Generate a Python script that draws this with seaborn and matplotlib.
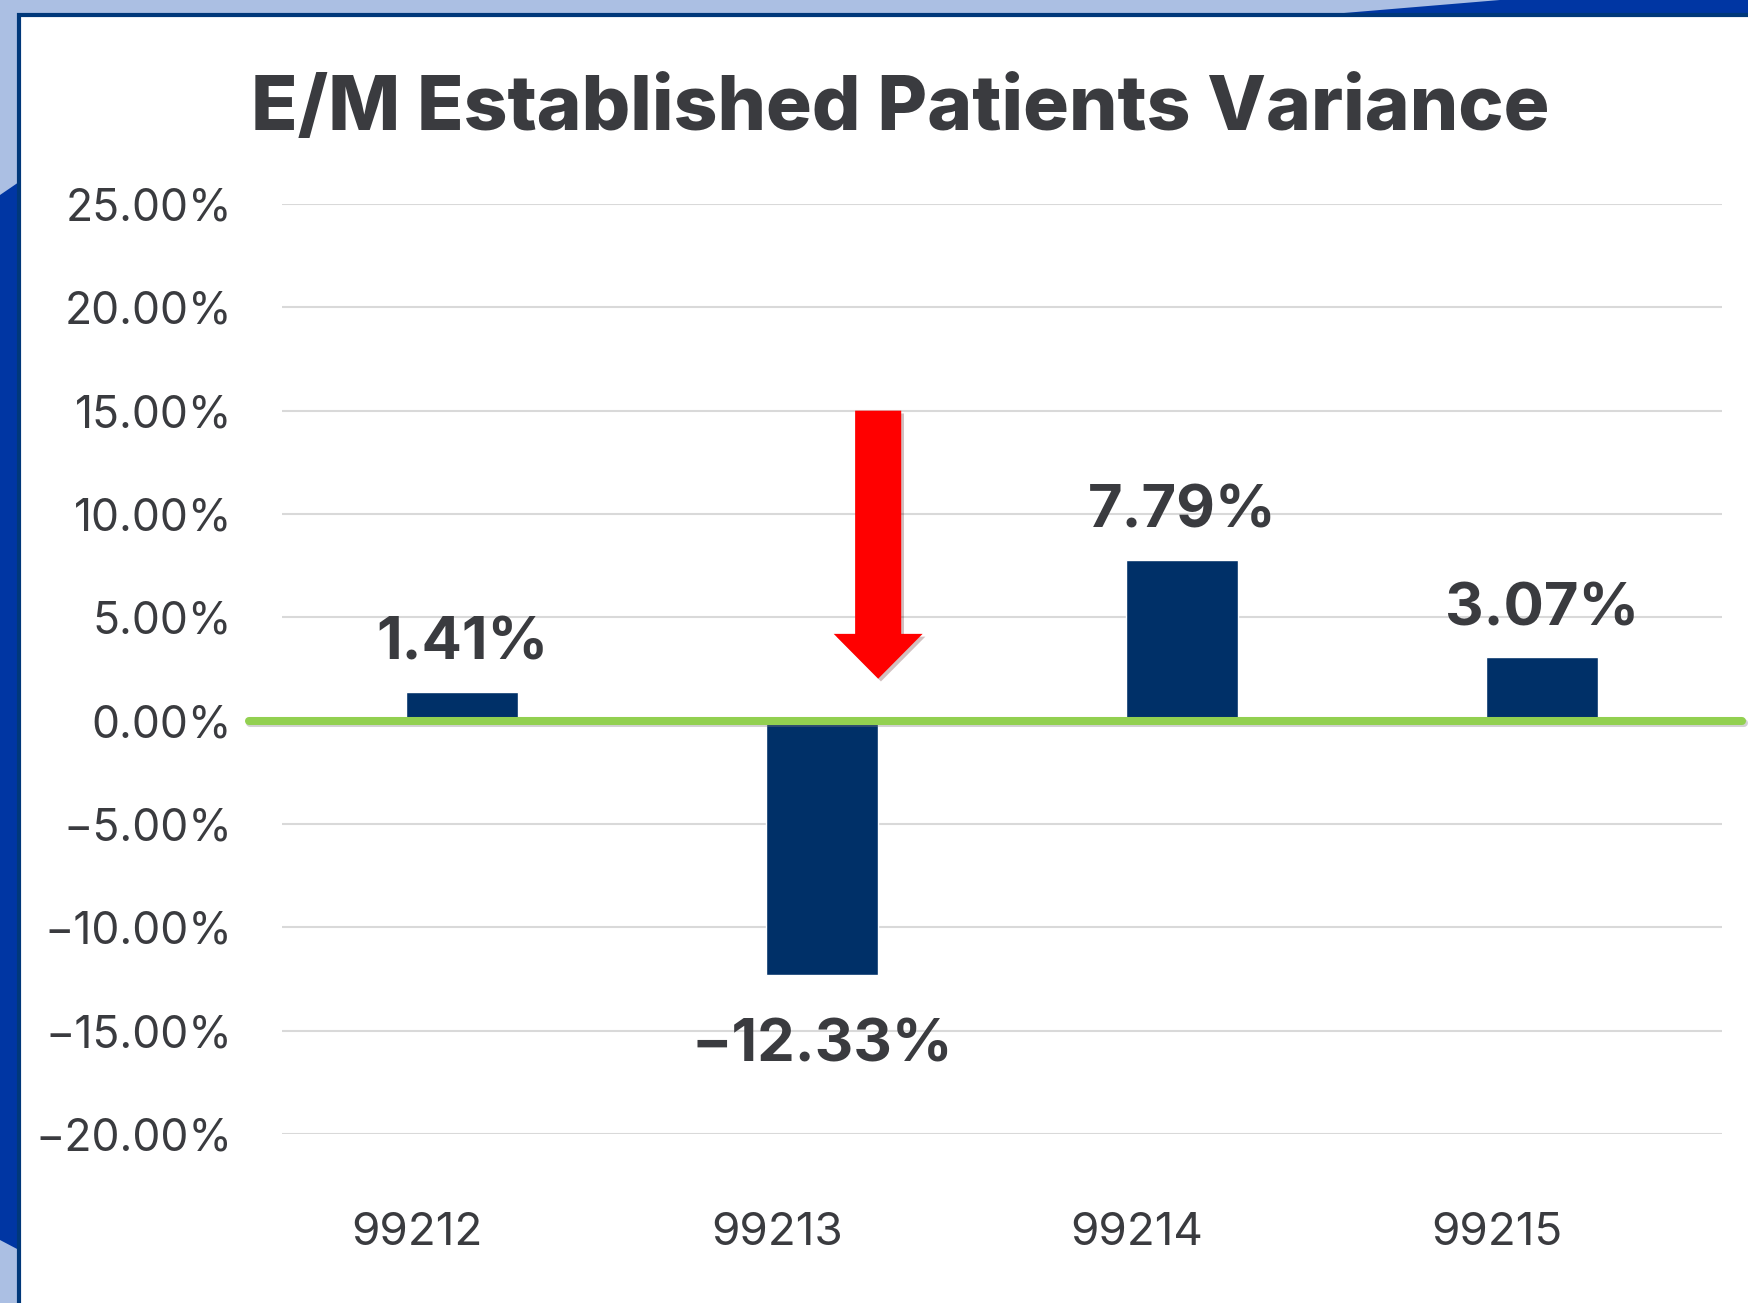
import matplotlib
matplotlib.use('Agg')
import matplotlib.pyplot as plt
import matplotlib.patches as mpatches
import matplotlib.patheffects as pe
from matplotlib.ticker import FuncFormatter, MultipleLocator
from matplotlib.transforms import ScaledTranslation
import pandas as pd
import seaborn as sns

codes = ['99212', '99213', '99214', '99215']
variance = [1.41, -12.33, 7.79, 3.07]
title = 'E/M Established Patients Variance'

# red arrow decoration (data units)
ARROW_X = 1.156
ARROW_TOP = 15.0
ARROW_TIP = 2.03

TEXT = '#3a3b3f'
BAR = '#003068'
GREEN = '#92d050'
LIGHT_BG = '#abbfe3'
DARK_BG = '#0036a3'
NAVY = '#00387a'

df = pd.DataFrame({'code': codes, 'variance': variance})

sns.set_style('white')
plt.rcParams['font.family'] = ['Inter', 'DejaVu Sans']

W, H = 1748, 1303
fig = plt.figure(figsize=(W / 100, H / 100), dpi=100, facecolor=LIGHT_BG)


def fpt(x, y):
    return (x / W, 1 - y / H)


# background decoration
fig.add_artist(mpatches.Polygon([fpt(0, 195), fpt(19, 182), fpt(19, 1250), fpt(0, 1240)],
                                closed=True, transform=fig.transFigure, fc=DARK_BG, ec='none', zorder=-3))
fig.add_artist(mpatches.Polygon([fpt(1320, 15), fpt(1500, 0), fpt(W, 0), fpt(W, 15)],
                                closed=True, transform=fig.transFigure, fc=DARK_BG, ec='none', zorder=-3))
x0, y0 = fpt(19, 15)
fig.add_artist(mpatches.Rectangle((x0, -0.01), 1.05 - x0, y0 + 0.01, transform=fig.transFigure,
                                  fc='white', ec=NAVY, lw=3, zorder=-2))

ax = fig.add_axes([282 / W, 1 - 1134 / H, 1440 / W, 930 / H])
ax.patch.set_alpha(0)

sns.barplot(data=df, x='code', y='variance', color=BAR, width=0.31, saturation=1, ax=ax, zorder=2)

ax.set_ylim(-20, 25)
ax.set_xlim(-0.5, 3.5)
ax.yaxis.set_major_locator(MultipleLocator(5))
ax.yaxis.set_major_formatter(FuncFormatter(lambda v, p: f'{v:.2f}%'.replace('-', '\u2212')))
ax.grid(axis='y', color='#d9d9d9', lw=1.5, zorder=0)
ax.set_axisbelow(True)
for s in ax.spines.values():
    s.set_visible(False)
ax.set_xlabel('')
ax.set_ylabel('')
ax.tick_params(axis='y', length=0, pad=36, labelsize=32, labelcolor=TEXT)
ax.tick_params(axis='x', length=0, pad=56, labelsize=33, labelcolor=TEXT)
for lab in ax.get_xticklabels():
    lab.set_transform(lab.get_transform() + ScaledTranslation(-0.45, 0, fig.dpi_scale_trans))

# zero line
ax.axhline(0, xmin=-0.023, xmax=1.014, color=GREEN, lw=5.8, clip_on=False, zorder=3,
           path_effects=[pe.SimpleLineShadow(offset=(1, -2), shadow_color='gray', alpha=0.35), pe.Normal()])

# value labels
for i, v in enumerate(variance):
    if v >= 0:
        ax.annotate(f'{v:.2f}%', (i, v), xytext=(0, 23), textcoords='offset points',
                    ha='center', va='baseline', fontsize=43, fontweight='bold', color=TEXT)
    else:
        ax.annotate(f'{v:.2f}%'.replace('-', '\u2212'), (i, v), xytext=(0, -31), textcoords='offset points',
                    ha='center', va='top', fontsize=43, fontweight='bold', color=TEXT)

# red arrow
ax.arrow(ARROW_X, ARROW_TOP, 0, ARROW_TIP - ARROW_TOP, width=0.128, head_width=0.247,
         head_length=2.17, length_includes_head=True, fc='#ff0000', ec='none', zorder=4,
         path_effects=[pe.SimplePatchShadow(offset=(2, -2), alpha=0.25), pe.Normal()])

fig.text(900 / W, 1 - 110 / H, title, ha='center', va='center', fontsize=55,
         fontweight='heavy', color=TEXT)

fig.savefig('out.png', dpi=100, facecolor=fig.get_facecolor())
